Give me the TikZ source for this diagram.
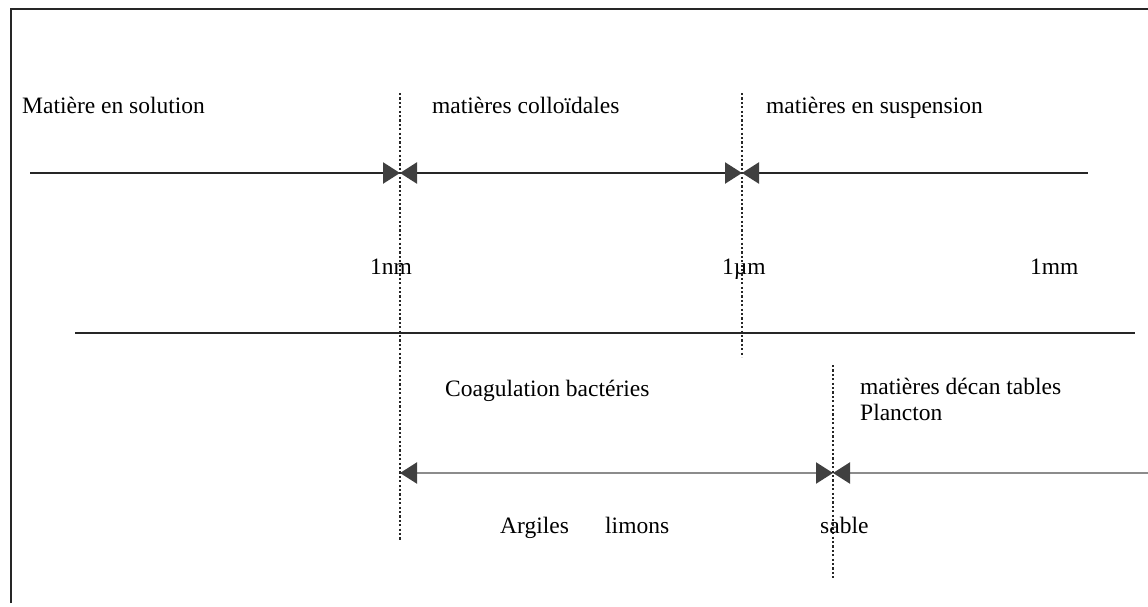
\documentclass[tikz,border=0pt]{standalone}
\usepackage{fontspec}
\setmainfont{Liberation Serif}
\usetikzlibrary{arrows.meta}
\begin{document}
\begin{tikzpicture}[x=1pt,y=-1pt,
  lbl/.style={anchor=base west,inner sep=0pt,font=\fontsize{23.5}{26}\selectfont},
  topbar/.style={draw=black!85,line width=2.4pt},
  graybar/.style={draw=black!45,line width=2.2pt},
  tri/.tip={Triangle[length=17pt,width=21pt,fill=black!75,color=black!75]},
  bound/.style={draw=black!85,line width=2.8pt,dash pattern=on 2.2pt off 2.2pt},
  frame/.style={draw=black!85,line width=2.6pt}]
\useasboundingbox (0,0) rectangle (1148,606);
% outer frame
\draw[frame] (11,603) -- (11,9) -- (1148,9);
% vertical size boundaries
\coordinate (v1t) at (400,93);  \coordinate (v1b) at (400,540);
\coordinate (v2t) at (742,93);  \coordinate (v2b) at (742,357);
\coordinate (v3t) at (833,365); \coordinate (v3b) at (833,580);
\draw[bound] (v1t) -- (v1b);
\draw[bound] (v2t) -- (v2b);
\draw[bound] (v3t) -- (v3b);
% upper scale
\coordinate (a0) at (30,173);
\coordinate (a1) at (400,173);
\coordinate (a2) at (742,173);
\coordinate (a3) at (1088,173);
\draw[topbar,-tri] (a0) -- (a1);
\draw[topbar,tri-tri] (a1) -- (a2);
\draw[topbar,tri-] (a2) -- (a3);
% separating line
\coordinate (s0) at (75,333);
\coordinate (s1) at (1135,333);
\draw[draw=black!85,line width=1.7pt] (s0) -- (s1);
% lower scale
\coordinate (b1) at (400,473);
\coordinate (b2) at (833,473);
\coordinate (b3) at (1150,473);
\draw[graybar,tri-tri] (b1) -- (b2);
\draw[graybar,tri-] (b2) -- (b3);
% labels
\node[lbl] (t1) at (22,113) {Matière en solution};
\node[lbl] (t2) at (432,113) {matières colloïdales};
\node[lbl] (t3) at (766,113) {matières en suspension};
\node[lbl] (u1) at (370,274) {1nm};
\node[lbl] (u2) at (722,274) {1µm};
\node[lbl] (u3) at (1030,274) {1mm};
\node[lbl] (c1) at (445,396) {Coagulation bactéries};
\node[lbl] (c2) at (860,394) {matières décan tables};
\node[lbl] (c3) at (860,420) {Plancton};
\node[lbl] (d1) at (500,533) {Argiles};
\node[lbl] (d2) at (605,533) {limons};
\node[lbl] (d3) at (820,533) {sable};
\end{tikzpicture}
\end{document}
